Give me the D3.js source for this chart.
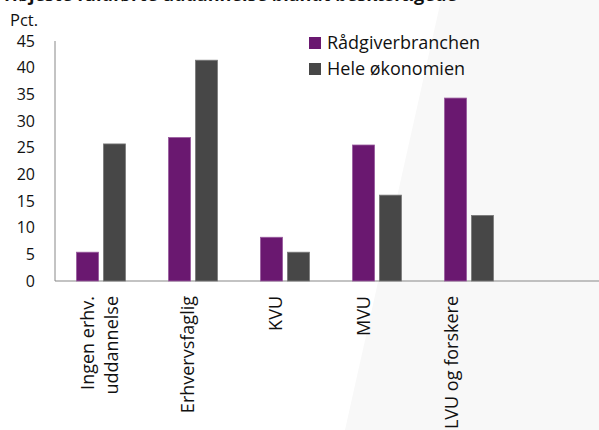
<!DOCTYPE html>
<html>
<head>
<meta charset="utf-8">
<script src="https://cdn.jsdelivr.net/npm/d3@7"></script>
<style>
  body { margin: 0; background: #fff; }
  text { font-family: "Open Sans", sans-serif; fill: #111; }
</style>
</head>
<body>
<div id="chart"></div>
<script>
// data
var categories = ["Ingen erhv. uddannelse", "Erhvervsfaglig", "KVU", "MVU", "LVU og forskere", ""];
var labelLines = [["Ingen erhv.", "uddannelse"], ["Erhvervsfaglig"], ["KVU"], ["MVU"], ["LVU og forskere"]];
var series = ["Rådgiverbranchen", "Hele økonomien"];
var raadgiver = [5.4, 26.9, 8.2, 25.5, 34.3];
var heleOkonomien = [25.7, 41.4, 5.4, 16.1, 12.3];
var yTicks = [0, 5, 10, 15, 20, 25, 30, 35, 40, 45];
var colors = ["#6a1870", "#474747"];
var strokes = ["#9a5c9e", "#7a7a7a"];

var W = 599, H = 430;
var svg = d3.select("#chart").append("svg")
	.attr("width", W)
	.attr("height", H);

// light slanted panel in the background
svg.append("polygon")
	.attr("points", [[441, 0], [W, 0], [W, H], [345, H]].map(function(p) { return p.join(","); }).join(" "))
	.attr("fill", "#f8f8f8");

// title, mostly cut off at the top edge
svg.append("text")
	.attr("x", 4)
	.attr("y", 0.5)
	.attr("font-size", 18)
	.attr("font-weight", "bold")
	.text("Højeste fuldførte uddannelse blandt beskæftigede");

var x0 = 55, y0 = 281;
var x = d3.scaleBand().domain(categories).range([x0, x0 + 6 * 92]);
var xs = d3.scaleBand().domain(series).range([-24.5, 24.5]).paddingInner(0.18);
var xl = d3.scalePoint().domain(categories.slice(0, 5)).range([99.5, 451.5]);
var y = d3.scaleLinear().domain([0, 45]).range([y0, 41]);

// axes
svg.append("line")
	.attr("x1", x0).attr("x2", x0)
	.attr("y1", y(45)).attr("y2", y0)
	.attr("stroke", "#888").attr("stroke-width", 1);
svg.append("line")
	.attr("x1", x0).attr("x2", W)
	.attr("y1", y0).attr("y2", y0)
	.attr("stroke", "#888").attr("stroke-width", 1.2);

svg.selectAll(".ytick")
	.data(yTicks)
	.enter().append("text")
	.attr("class", "ytick")
	.attr("x", 35)
	.attr("y", function(d) { return y(d); })
	.attr("dy", "0.35em")
	.attr("text-anchor", "end")
	.attr("font-size", 16)
	.text(function(d) { return d; });

svg.append("text")
	.attr("x", 10)
	.attr("y", 26)
	.attr("font-size", 16.5)
	.text("Pct.");

// bars
var rows = categories.slice(0, 5).map(function(c, i) {
	return { cat: c, values: [raadgiver[i], heleOkonomien[i]] };
});

var groups = svg.selectAll(".grp")
	.data(rows)
	.enter().append("g")
	.attr("class", "grp")
	.attr("transform", function(d) { return "translate(" + (x(d.cat) + x.bandwidth() / 2) + ",0)"; });

groups.selectAll("rect")
	.data(function(d) { return d.values; })
	.enter().append("rect")
	.attr("x", function(d, i) { return xs(series[i]); })
	.attr("width", xs.bandwidth())
	.attr("y", function(d) { return y(d); })
	.attr("height", function(d) { return y0 - y(d); })
	.attr("fill", function(d, i) { return colors[i]; })
	.attr("stroke", function(d, i) { return strokes[i]; })
	.attr("stroke-width", 0.8);

// category labels, rotated
var labs = svg.selectAll(".xlab")
	.data(labelLines)
	.enter().append("g")
	.attr("class", "xlab")
	.attr("transform", function(d, i) { return "translate(" + xl(categories[i]) + ",296) rotate(-90)"; });

labs.selectAll("text")
	.data(function(d) { return d; })
	.enter().append("text")
	.attr("x", 0)
	.attr("y", function(d, i, nodes) { return (i - (nodes.length - 1) / 2) * 24; })
	.attr("dy", "0.35em")
	.attr("text-anchor", "end")
	.attr("font-size", 18)
	.text(function(d) { return d; });

// legend
var leg = svg.selectAll(".leg")
	.data(series)
	.enter().append("g")
	.attr("class", "leg")
	.attr("transform", function(d, i) { return "translate(309," + (37 + i * 26) + ")"; });

leg.append("rect")
	.attr("width", 12)
	.attr("height", 12)
	.attr("fill", function(d, i) { return colors[i]; });

leg.append("text")
	.attr("x", 18)
	.attr("y", 6)
	.attr("dy", "0.35em")
	.attr("font-size", 18)
	.text(function(d) { return d; });
</script>
</body>
</html>
